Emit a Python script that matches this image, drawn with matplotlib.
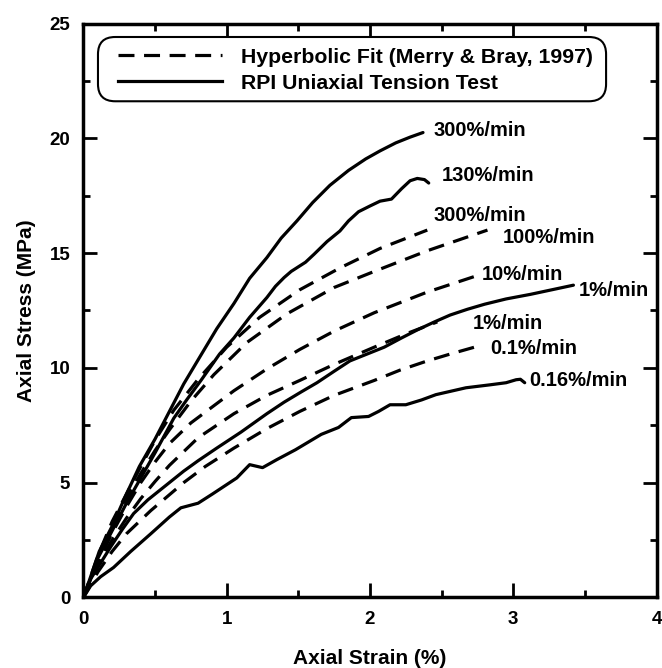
import numpy as np
import matplotlib.pyplot as plt
from matplotlib.patches import FancyBboxPatch
from matplotlib.lines import Line2D

plt.rcParams['font.family'] = ['Liberation Sans', 'DejaVu Sans']
plt.rcParams['font.weight'] = 'bold'

# --- RPI uniaxial tension test (solid curves) ---
s300_x = [0, 0.05, 0.11, 0.2, 0.3, 0.39, 0.5, 0.6, 0.7, 0.81, 0.93, 1.05, 1.16, 1.28,
          1.38, 1.49, 1.6, 1.72, 1.85, 1.97, 2.07, 2.18, 2.28, 2.37]
s300_y = [0, 0.9, 2.0, 3.1, 4.5, 5.7, 6.9, 8.1, 9.3, 10.45, 11.7, 12.8, 13.9, 14.8,
          15.65, 16.4, 17.2, 17.95, 18.6, 19.1, 19.45, 19.8, 20.05, 20.25]

s130_x = [0, 0.05, 0.1, 0.2, 0.3, 0.4, 0.5, 0.63, 0.72, 0.82, 0.95, 1.05, 1.16, 1.28,
          1.34, 1.40, 1.45, 1.49, 1.55, 1.61, 1.70, 1.79, 1.85, 1.92, 2.0, 2.07, 2.15,
          2.22, 2.28, 2.33, 2.38, 2.41]
s130_y = [0, 0.8, 1.7, 2.9, 4.1, 5.2, 6.3, 7.8, 8.6, 9.45, 10.6, 11.3, 12.2, 13.06,
          13.55, 13.93, 14.2, 14.36, 14.6, 14.95, 15.5, 15.96, 16.4, 16.8, 17.05, 17.26, 17.35,
          17.8, 18.15, 18.25, 18.2, 18.05]

s1_x = [0, 0.05, 0.1, 0.19, 0.27, 0.35, 0.45, 0.56, 0.7, 0.8, 0.93, 1.1, 1.28, 1.4,
        1.52, 1.63, 1.75, 1.86, 1.98, 2.1, 2.22, 2.33, 2.45, 2.56, 2.68, 2.8, 2.95,
        3.12, 3.27, 3.42]
s1_y = [0, 0.8, 1.3, 2.2, 2.95, 3.65, 4.25, 4.8, 5.5, 5.95, 6.5, 7.2, 8.0, 8.5,
        8.95, 9.35, 9.85, 10.3, 10.6, 10.9, 11.3, 11.65, 12.0, 12.3, 12.55, 12.77, 13.0,
        13.2, 13.4, 13.6]

s016_x = [0, 0.05, 0.12, 0.21, 0.33, 0.47, 0.6, 0.68, 0.8, 0.9, 1.07, 1.16, 1.25,
          1.35, 1.48, 1.66, 1.78, 1.87, 1.99, 2.06, 2.14, 2.25, 2.36, 2.46, 2.67, 2.84,
          2.95, 3.02, 3.05, 3.08]
s016_y = [0, 0.5, 0.9, 1.3, 2.0, 2.77, 3.5, 3.9, 4.1, 4.5, 5.2, 5.78, 5.65,
          6.0, 6.43, 7.1, 7.4, 7.83, 7.88, 8.1, 8.39, 8.39, 8.6, 8.83, 9.13, 9.26,
          9.35, 9.48, 9.5, 9.35]

# --- Hyperbolic fit (dashed curves) ---
d300_x = [0, 0.1, 0.2, 0.3, 0.4, 0.5, 0.63, 0.8, 1.0, 1.23, 1.51, 1.79, 2.07, 2.40]
d300_y = [0, 1.8, 3.3, 4.5, 5.7, 6.85, 8.15, 9.5, 10.9, 12.2, 13.4, 14.35, 15.2, 16.0]

d100_x = [0, 0.1, 0.2, 0.3, 0.4, 0.5, 0.6, 0.75, 0.91, 1.14, 1.42, 1.75, 2.03, 2.4, 2.82]
d100_y = [0, 1.7, 3.1, 4.3, 5.4, 6.4, 7.3, 8.55, 9.7, 11.1, 12.35, 13.5, 14.2, 15.1, 16.0]

d10_x = [0, 0.1, 0.2, 0.3, 0.4, 0.5, 0.6, 0.75, 0.9, 1.05, 1.28, 1.51, 1.75, 2.03, 2.4, 2.74]
d10_y = [0, 1.5, 2.8, 3.95, 5.0, 5.9, 6.7, 7.6, 8.3, 9.0, 9.95, 10.8, 11.6, 12.4, 13.3, 14.0]

d1_x = [0, 0.1, 0.2, 0.3, 0.4, 0.5, 0.6, 0.8, 1.05, 1.28, 1.51, 1.75, 2.03, 2.26, 2.47]
d1_y = [0, 1.4, 2.5, 3.45, 4.3, 5.05, 5.75, 6.95, 8.0, 8.8, 9.45, 10.15, 10.9, 11.5, 12.0]

d01_x = [0, 0.1, 0.2, 0.3, 0.47, 0.7, 0.85, 1.05, 1.28, 1.51, 1.75, 2.03, 2.21, 2.4, 2.56, 2.73]
d01_y = [0, 1.1, 2.0, 2.77, 3.78, 5.0, 5.7, 6.5, 7.35, 8.1, 8.8, 9.45, 9.9, 10.3, 10.6, 10.9]

solid = [(s300_x, s300_y), (s130_x, s130_y), (s1_x, s1_y), (s016_x, s016_y)]
dashed = [(d300_x, d300_y), (d100_x, d100_y), (d10_x, d10_y), (d1_x, d1_y), (d01_x, d01_y)]

rate_labels = ['300%/min', '130%/min', '300%/min', '100%/min', '10%/min',
               '1%/min', '1%/min', '0.1%/min', '0.16%/min']
label_pos = [(2.44, 20.33), (2.50, 18.37), (2.44, 16.63), (2.93, 15.67), (2.78, 14.07),
             (3.46, 13.37), (2.72, 11.93), (2.84, 10.84), (3.11, 9.43)]

DASH = (5.0, 3.0)
LW = 2.3

fig = plt.figure(figsize=(6.62, 6.68), dpi=100)
ax = fig.add_axes([0.1261, 0.1058, 0.8656, 0.859])

for x, y in solid:
    ax.plot(x, y, color='black', lw=LW, solid_capstyle='round', solid_joinstyle='round')
for x, y in dashed:
    ax.plot(x, y, color='black', lw=LW, dashes=DASH)

for txt, (tx, ty) in zip(rate_labels, label_pos):
    ax.text(tx, ty, txt, fontsize=14.5, fontweight='bold', ha='left', va='center')

ax.set_xlim(0, 4)
ax.set_ylim(0, 25)
ax.set_xticks([0, 1, 2, 3, 4])
ax.set_yticks([0, 5, 10, 15, 20, 25])
ax.set_xticks(np.arange(0, 4.01, 0.5), minor=True)
ax.set_yticks(np.arange(0, 25.01, 2.5), minor=True)

ax.tick_params(which='major', direction='in', length=10, width=2,
               top=True, right=True, labelsize=13.5)
ax.tick_params(which='minor', direction='in', length=5, width=2, top=True, right=True)
ax.tick_params(axis='x', which='major', pad=10)
ax.tick_params(axis='y', which='major', pad=9.5)
for sp in ax.spines.values():
    sp.set_linewidth(2.5)

ax.set_xlabel('Axial Strain (%)', fontsize=15, fontweight='bold', labelpad=15)
ax.set_ylabel('Axial Stress (MPa)', fontsize=15, fontweight='bold', labelpad=10)

# rounded legend frame
frame = FancyBboxPatch((0.0253, 0.8645), 0.912 - 0.0253, 0.9765 - 0.8645,
                       boxstyle='round,pad=0,rounding_size=0.03',
                       transform=ax.transAxes, facecolor='white', edgecolor='black',
                       lw=1.5, zorder=4)
ax.add_patch(frame)

handles = [Line2D([], [], color='black', lw=LW, dashes=DASH),
           Line2D([], [], color='black', lw=LW)]
leg = ax.legend(handles, ['Hyperbolic Fit (Merry & Bray, 1997)', 'RPI Uniaxial Tension Test'],
                loc='upper left', bbox_to_anchor=(0.0602, 0.958), borderpad=0,
                borderaxespad=0, frameon=False, fontsize=15.3, handlelength=4.9,
                handletextpad=0.9, labelspacing=0.33)
leg.set_zorder(5)

fig.savefig('out.png', dpi=100)
